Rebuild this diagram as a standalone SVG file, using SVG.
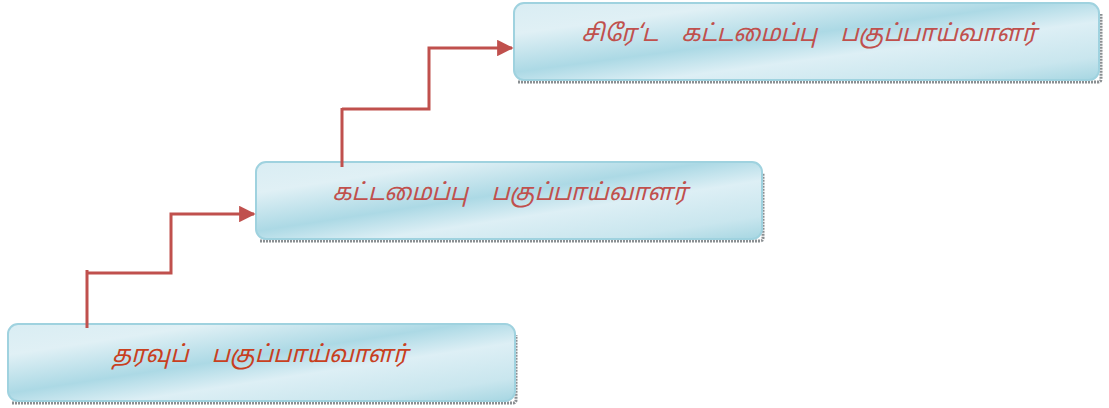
<svg xmlns="http://www.w3.org/2000/svg" width="1109" height="408" viewBox="0 0 1109 408">
<style>
.box{fill:url(#g);stroke:#9fd2df;stroke-width:2}
.sh{fill:none;stroke:#8a8f92;stroke-width:3;stroke-dasharray:2 1}
.t{font-family:"Noto Sans Tamil","Lohit Tamil","Noto Sans",sans-serif;font-size:23.5px;font-style:italic;fill:#c0504d;text-anchor:middle;word-spacing:17px}
.c{fill:none;stroke:#c0504d;stroke-width:3}
</style>
<defs>
<linearGradient id="g" x1="0" y1="0" x2="1" y2="1">
<stop offset="0" stop-color="#d9edf3"/>
<stop offset="0.2" stop-color="#e0f0f5"/>
<stop offset="0.45" stop-color="#acd9e5"/>
<stop offset="0.62" stop-color="#ddeff5"/>
<stop offset="0.85" stop-color="#c9e6ee"/>
<stop offset="1" stop-color="#a6d6e2"/>
</linearGradient>
<marker id="a" viewBox="0 0 10 10" refX="9" refY="5" markerWidth="5.5" markerHeight="5.5" orient="auto" markerUnits="strokeWidth">
<path d="M0,0 L10,5 L0,10 z" fill="#c0504d"/>
</marker>
</defs>
<g id="n3">
<path class="sh" d="M518,82 H1098 Q1101,82 1101,79 V14"/>
<rect class="box" x="514" y="3" width="585" height="77" rx="10"/>
<text class="t" x="809" y="41">சிரே‘ட கட்டமைப்பு பகுப்பாய்வாளர்</text>
</g>
<g id="n2">
<path class="sh" d="M260,241 H760 Q763,241 763,238 V173"/>
<rect class="box" x="256" y="162" width="506" height="77" rx="10"/>
<text class="t" x="510" y="200">கட்டமைப்பு பகுப்பாய்வாளர்</text>
</g>
<g id="n1">
<path class="sh" d="M12,403 H513 Q516,403 516,400 V335"/>
<rect class="box" x="8" y="324" width="507" height="77" rx="10"/>
<text class="t" x="260" y="362" style="fill:#c8401f">தரவுப் பகுப்பாய்வாளர்</text>
</g>
<g id="connectors">
<path class="c" d="M87,328 V270 M87,273 H171 V214 H254" marker-end="url(#a)"/>
<path class="c" d="M342,167 V108 M342,109 H429 V48 H512" marker-end="url(#a)"/>
</g>
</svg>
